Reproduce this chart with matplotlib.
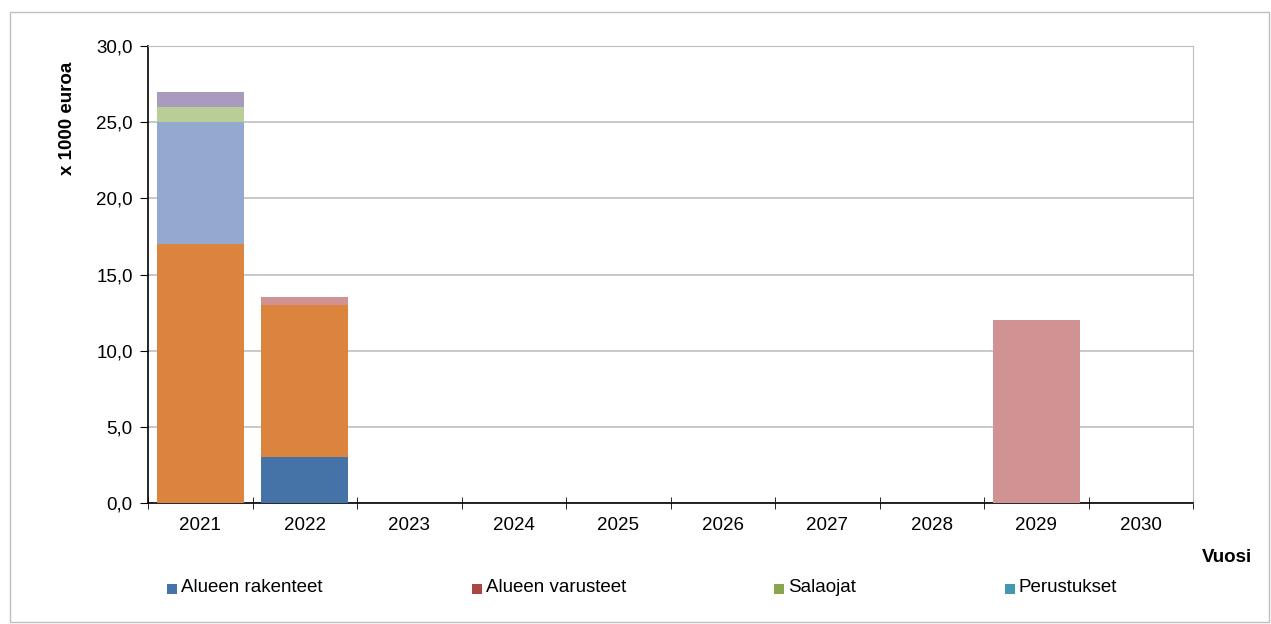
import numpy as np
import matplotlib
matplotlib.use("Agg")
import matplotlib.pyplot as plt
from matplotlib.patches import Rectangle
from matplotlib.ticker import FuncFormatter, MultipleLocator

plt.rcParams['font.family'] = ['Liberation Sans', 'DejaVu Sans']

# Years on the x axis
years = ["2021", "2022", "2023", "2024", "2025", "2026", "2027", "2028", "2029", "2030"]

# Stacked series, bottom to top (x 1000 euroa)
alueen_rakenteet = [0, 3, 0, 0, 0, 0, 0, 0, 0, 0]
alueen_varusteet = [0, 0, 0, 0, 0, 0, 0, 0, 0, 0]
salaojat = [0, 0, 0, 0, 0, 0, 0, 0, 0, 0]
perustukset = [0, 0, 0, 0, 0, 0, 0, 0, 0, 0]
series_5 = [17, 10, 0, 0, 0, 0, 0, 0, 0, 0]
series_6 = [8, 0, 0, 0, 0, 0, 0, 0, 0, 0]
series_7 = [1, 0, 0, 0, 0, 0, 0, 0, 0, 0]
series_8 = [1, 0, 0, 0, 0, 0, 0, 0, 0, 0]
series_9 = [0, 0.5, 0, 0, 0, 0, 0, 0, 12, 0]

series = [alueen_rakenteet, alueen_varusteet, salaojat, perustukset,
          series_5, series_6, series_7, series_8, series_9]
colors = ["#4572A7", "#AA4643", "#89A54E", "#4198AF",
          "#DB843D", "#93A9CF", "#B9CD96", "#A99BBD", "#D09293"]

# only the first four fit in the legend
legend_names = ["Alueen rakenteet", "Alueen varusteet", "Salaojat", "Perustukset"]
legend_x = [167, 472, 774, 1005]

W, H = 1271, 624
fs = 13.5

fig = plt.figure(figsize=(W / 100, H / 100), dpi=100)
ax = fig.add_axes([148 / W, 1 - 503 / H, (1193 - 148) / W, (503 - 46) / H])

# light frame round the whole chart
fig.patches.append(Rectangle((10 / W, 2 / H), 1259 / W, 610 / H,
                             transform=fig.transFigure, fill=False,
                             edgecolor="#BFBFBF", linewidth=1))

x = np.arange(len(years))
bottom = np.zeros(len(years))
for vals, col in zip(series, colors):
    vals = np.array(vals, dtype=float)
    ax.bar(x, vals, width=0.83, bottom=bottom, color=col, edgecolor="none", zorder=3)
    bottom += vals

ax.set_xlim(-0.5, len(years) - 0.5)
ax.set_ylim(0, 30)
ax.yaxis.set_major_locator(MultipleLocator(5))
ax.yaxis.set_major_formatter(FuncFormatter(lambda v, p: f"{v:.1f}".replace(".", ",")))
ax.grid(axis="y", color="#BFBFBF", linewidth=1.2, zorder=0)

ax.set_xticks(x)
ax.set_xticklabels(years)
ax.set_xticks(np.arange(-0.5, len(years)), minor=True)
ax.tick_params(axis="x", which="major", length=0, labelsize=fs, pad=10)
ax.tick_params(axis="x", which="minor", length=8, direction="inout", color="black")
ax.tick_params(axis="y", length=6, direction="out", labelsize=fs, pad=5)

for side in ["top", "right"]:
    ax.spines[side].set_color("#BFBFBF")
for side in ["left", "bottom"]:
    ax.spines[side].set_color("black")
    ax.spines[side].set_linewidth(1.2)

fig.text(67 / W, 1 - 118 / H, "x 1000 euroa", fontsize=fs, fontweight="bold",
         rotation=90, ha="center", va="center")
fig.text(1227 / W, 1 - 558 / H, "Vuosi", fontsize=fs, fontweight="bold",
         ha="center", va="center")

# legend drawn by hand at the reference positions
for name, col, lx in zip(legend_names, colors[:4], legend_x):
    fig.patches.append(Rectangle((lx / W, 1 - 594 / H), 10 / W, 10 / H,
                                 transform=fig.transFigure, facecolor=col,
                                 edgecolor="none"))
    fig.text((lx + 14) / W, 1 - 588 / H, name, fontsize=fs, ha="left", va="center")

fig.savefig("out.png", dpi=100)
